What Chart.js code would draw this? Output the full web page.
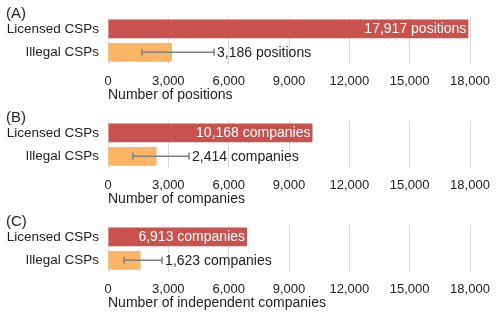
<!DOCTYPE html>
<html>
<head>
<meta charset="utf-8">
<script src="https://cdn.jsdelivr.net/npm/chart.js@4"></script>
<style>
  body { margin: 0; background: #fff; }
  .panel { position: absolute; left: 0; width: 498px; height: 104px; }
</style>
</head>
<body>
<div class="panel" style="top:0px"><canvas id="chartA"></canvas></div>
<div class="panel" style="top:104px"><canvas id="chartB"></canvas></div>
<div class="panel" style="top:208px"><canvas id="chartC"></canvas></div>
<script>
// data
var categories = ["Licensed CSPs", "Illegal CSPs"];
var panelLabels = ["(A)", "(B)", "(C)"];
var axisTitles = ["Number of positions", "Number of companies", "Number of independent companies"];
var units = ["positions", "companies", "companies"];
var licensed = [17917, 10168, 6913];
var illegal = [3186, 2414, 1623];
var illegalLow = [1690, 1240, 800];
var illegalHigh = [5270, 4030, 2690];
var xTicks = [0, 3000, 6000, 9000, 12000, 15000, 18000];

var RED = "#c9524f";
var ORANGE = "#fdb465";
var TEXT = "#222";
var FONT = "'Liberation Sans', Arial, sans-serif";

function fmt(v){ return v.toLocaleString("en-US"); }

// panel label, error bar and value labels
var extras = {
  id: "extras",
  afterDatasetsDraw: function(chart){
    var p = chart.options.plugins.extras.panel;
    var ctx = chart.ctx;
    var xs = chart.scales.x;
    var meta = chart.getDatasetMeta(0);
    ctx.save();
    // panel label
    ctx.font = "15px " + FONT;
    ctx.fillStyle = TEXT;
    ctx.textAlign = "left";
    ctx.textBaseline = "middle";
    ctx.fillText(panelLabels[p], 6, 14);

    // error bar on illegal bar
    var bar = meta.data[1];
    var x1 = xs.getPixelForValue(illegalLow[p]);
    var x2 = xs.getPixelForValue(illegalHigh[p]);
    ctx.strokeStyle = "#808080";
    ctx.lineWidth = 1.5;
    ctx.beginPath();
    ctx.moveTo(x1, bar.y); ctx.lineTo(x2, bar.y);
    ctx.moveTo(x1, bar.y - 3.5); ctx.lineTo(x1, bar.y + 3.5);
    ctx.moveTo(x2, bar.y - 3.5); ctx.lineTo(x2, bar.y + 3.5);
    ctx.stroke();

    // labels
    ctx.font = "14px " + FONT;
    ctx.fillStyle = TEXT;
    ctx.textAlign = "left";
    ctx.fillText(fmt(illegal[p]) + " " + units[p], x2 + 3, bar.y + 0.5);

    var lb = meta.data[0];
    ctx.fillStyle = "#fff";
    ctx.textAlign = "right";
    ctx.fillText(fmt(licensed[p]) + " " + units[p], lb.x - 2, lb.y + 0.5);
    ctx.restore();
  }
};

function makeChart(id, p){
  return new Chart(id, {
    type: "bar",
    data: {
      labels: categories,
      datasets: [{
        data: [licensed[p], illegal[p]],
        backgroundColor: [RED, ORANGE],
        barPercentage: 0.8,
        categoryPercentage: 1.0
      }]
    },
    plugins: [extras],
    options: {
      indexAxis: "y",
      responsive: true,
      maintainAspectRatio: false,
      animation: false,
      layout: { padding: { top: 16, right: 28, left: 0, bottom: 0 } },
      plugins: {
        legend: { display: false },
        tooltip: { enabled: false },
        extras: { panel: p }
      },
      scales: {
        x: {
          min: 0, max: 18000,
          afterBuildTicks: function(s){ s.ticks = xTicks.map(function(v){ return {value: v}; }); },
          afterFit: function(s){ s.height = 40; s.paddingRight = 0; s.paddingLeft = 0; },
          ticks: {
            callback: function(v){ return fmt(v); },
            font: { family: FONT, size: 13 },
            color: TEXT,
            padding: 10,
            maxRotation: 0
          },
          grid: { color: "#d9d9d9", drawTicks: false, lineWidth: 1 },
          border: { display: false },
          title: {
            display: true,
            text: axisTitles[p],
            align: "start",
            font: { family: FONT, size: 14 },
            color: TEXT,
            padding: { top: 0, bottom: 0 }
          }
        },
        y: {
          afterFit: function(s){ s.width = 108; },
          ticks: {
            font: { family: FONT, size: 13.5 },
            color: TEXT,
            padding: 9
          },
          grid: { display: false, drawTicks: false },
          border: { display: false }
        }
      }
    }
  });
}

makeChart("chartA", 0);
makeChart("chartB", 1);
makeChart("chartC", 2);
</script>
</body>
</html>
